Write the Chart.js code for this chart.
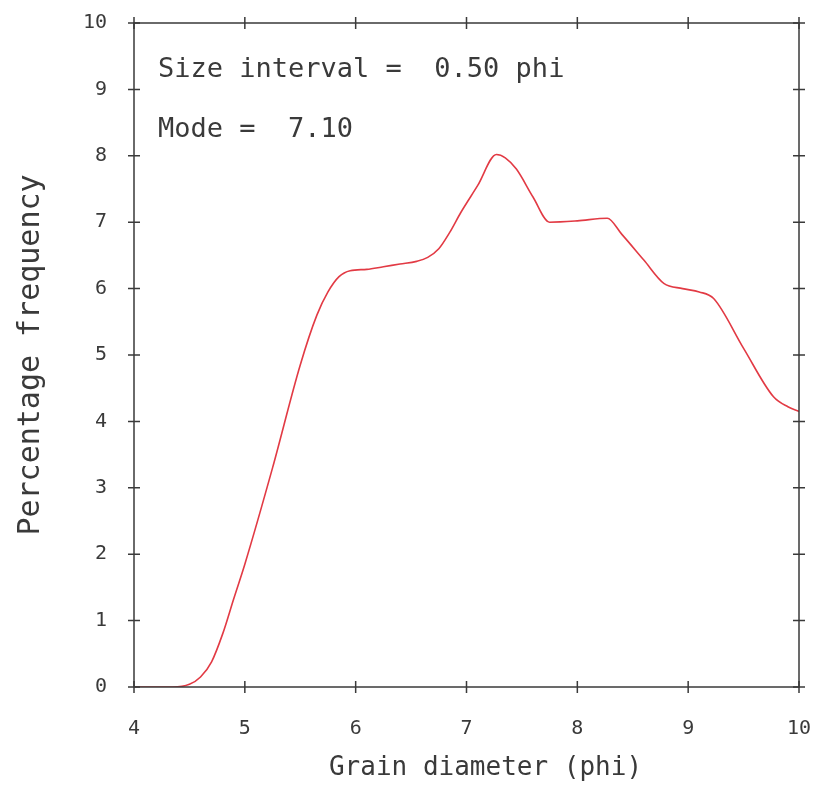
<!DOCTYPE html>
<html>
<head>
<meta charset="utf-8">
<script src="https://cdn.jsdelivr.net/npm/chart.js@4.4.1/dist/chart.umd.min.js"></script>
<style>
  html, body { margin: 0; padding: 0; background: #ffffff; }
  #wrap { width: 830px; height: 792px; }
</style>
</head>
<body>
<div id="wrap"><canvas id="chart" width="830" height="792"></canvas></div>
<script>
// grain size distribution curve
const phiValues = [4.0, 4.35, 4.5, 4.6, 4.7, 4.8, 4.9, 5.0, 5.25, 5.5, 5.65, 5.75, 5.85, 5.95,
  6.1, 6.25, 6.4, 6.55, 6.65, 6.75, 6.85, 6.95, 7.1, 7.27, 7.35, 7.45, 7.6, 7.75,
  8.0, 8.27, 8.4, 8.6, 8.78, 8.95, 9.1, 9.23, 9.5, 9.77, 9.9, 10.0];
const freqValues = [0, 0, 0.04, 0.15, 0.38, 0.8, 1.33, 1.85, 3.3, 4.85, 5.6, 5.95, 6.18, 6.27,
  6.29, 6.33, 6.37, 6.41, 6.47, 6.6, 6.85, 7.15, 7.55, 8.02, 7.97, 7.8, 7.38, 7.0,
  7.02, 7.06, 6.82, 6.43, 6.08, 6.0, 5.95, 5.85, 5.1, 4.37, 4.22, 4.15];

const xTicks = [4, 5, 6, 7, 8, 9, 10];
const yTicks = [0, 1, 2, 3, 4, 5, 6, 7, 8, 9, 10];
const notes = ['Size interval =  0.50 phi', 'Mode =  7.10'];
const xTitle = 'Grain diameter (phi)';
const yTitle = 'Percentage frequency';

const MONO = '"DejaVu Sans Mono", "Liberation Mono", monospace';
const INK = '#3a3a3a';

// fixed axis sizes, no extra label padding around the plot
function fixAxis(size) {
  return s => {
    if (s.isHorizontal()) s.height = size; else s.width = size;
    s.paddingTop = s.paddingBottom = s.paddingLeft = s.paddingRight = 0;
  };
}

// frame, cross ticks on all four sides, notes and x title
const framePlugin = {
  id: 'frame',
  afterDraw(chart) {
    const ctx = chart.ctx;
    const a = chart.chartArea;
    const xs = chart.scales.x;
    const ys = chart.scales.y;
    const t = 6;
    ctx.save();
    ctx.strokeStyle = INK;
    ctx.lineWidth = 1.5;
    ctx.strokeRect(a.left, a.top, a.right - a.left, a.bottom - a.top);
    ctx.beginPath();
    xTicks.forEach(v => {
      const px = xs.getPixelForValue(v);
      ctx.moveTo(px, a.bottom - t); ctx.lineTo(px, a.bottom + t);
      ctx.moveTo(px, a.top - t); ctx.lineTo(px, a.top + t);
    });
    yTicks.forEach(v => {
      const py = ys.getPixelForValue(v);
      ctx.moveTo(a.left - t, py); ctx.lineTo(a.left + t, py);
      ctx.moveTo(a.right - t, py); ctx.lineTo(a.right + t, py);
    });
    ctx.stroke();

    ctx.fillStyle = INK;
    ctx.font = '27px ' + MONO;
    ctx.textAlign = 'left';
    ctx.textBaseline = 'alphabetic';
    ctx.fillText(notes[0], a.left + 24, a.top + 54);
    ctx.fillText(notes[1], a.left + 24, a.top + 114);

    ctx.font = '26px ' + MONO;
    ctx.textAlign = 'center';
    ctx.fillText(xTitle, (a.left + a.right) / 2 + 19, a.bottom + 88);
    ctx.restore();
  }
};

new Chart(document.getElementById('chart'), {
  type: 'line',
  data: {
    datasets: [{
      data: phiValues.map((p, i) => ({ x: p, y: freqValues[i] })),
      borderColor: '#e23a44',
      borderWidth: 1.6,
      pointRadius: 0,
      fill: false,
      cubicInterpolationMode: 'monotone'
    }]
  },
  options: {
    responsive: false,
    animation: false,
    layout: { padding: { top: 23, right: 31, left: 0, bottom: 0 } },
    plugins: {
      legend: { display: false },
      tooltip: { enabled: false }
    },
    scales: {
      x: {
        type: 'linear',
        min: 4,
        max: 10,
        afterBuildTicks: s => { s.ticks = xTicks.map(v => ({ value: v })); },
        grid: { display: false, drawTicks: false },
        border: { display: false },
        ticks: { color: INK, font: { family: MONO, size: 20 }, padding: 30, maxRotation: 0 },
        afterFit: fixAxis(105)
      },
      y: {
        type: 'linear',
        min: 0,
        max: 10,
        afterBuildTicks: s => { s.ticks = yTicks.map(v => ({ value: v })); },
        grid: { display: false, drawTicks: false },
        border: { display: false },
        ticks: { color: INK, font: { family: MONO, size: 20 }, padding: 27 },
        title: {
          display: true,
          text: yTitle,
          color: INK,
          font: { family: MONO, size: 30 },
          padding: { top: 13, bottom: 0 }
        },
        afterFit: fixAxis(134)
      }
    }
  },
  plugins: [framePlugin]
});
</script>
</body>
</html>
